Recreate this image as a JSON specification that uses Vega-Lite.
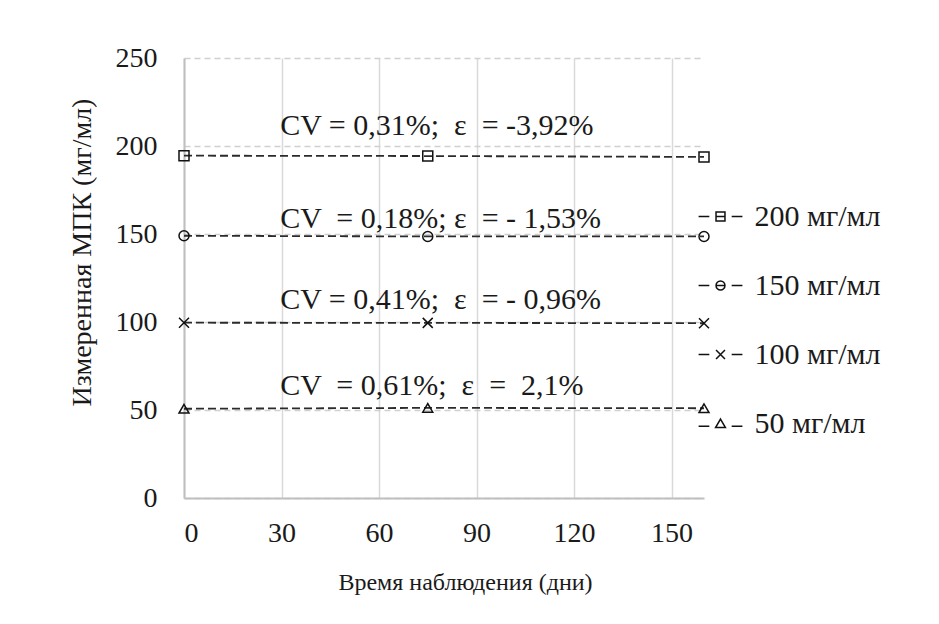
{
  "$schema": "https://vega.github.io/schema/vega-lite/v6.json",
  "width": 520,
  "height": 440,
  "autosize": {"type": "none"},
  "padding": {"left": 184, "top": 58, "right": 235, "bottom": 126},
  "background": "white",
  "config": {
    "view": {"stroke": null},
    "font": "Liberation Serif",
    "text": {"font": "Liberation Serif"},
    "axis": {
      "labelFont": "Liberation Serif",
      "titleFont": "Liberation Serif",
      "labelFontSize": 28,
      "titleFontSize": 26,
      "titleFontWeight": "normal",
      "labelColor": "#1a1a1a",
      "titleColor": "#1a1a1a",
      "ticks": false,
      "tickSize": 0,
      "domainColor": "#bfbfbf",
      "domainWidth": 2
    },
    "legend": {
      "labelFont": "Liberation Serif",
      "labelFontSize": 30,
      "labelColor": "#1a1a1a",
      "padding": 0
    }
  },
  "datasets": {
    "series": [
      {"conc": "200 мг/мл", "day": 0, "value": 194.5},
      {"conc": "200 мг/мл", "day": 75, "value": 194.3},
      {"conc": "200 мг/мл", "day": 160, "value": 193.8},
      {"conc": "150 мг/мл", "day": 0, "value": 149.0},
      {"conc": "150 мг/мл", "day": 75, "value": 148.6},
      {"conc": "150 мг/мл", "day": 160, "value": 148.6},
      {"conc": "100 мг/мл", "day": 0, "value": 99.6},
      {"conc": "100 мг/мл", "day": 75, "value": 99.5},
      {"conc": "100 мг/мл", "day": 160, "value": 99.3},
      {"conc": "50 мг/мл", "day": 0, "value": 50.7},
      {"conc": "50 мг/мл", "day": 75, "value": 51.2},
      {"conc": "50 мг/мл", "day": 160, "value": 51.0}
    ],
    "notes": [
      {"label": "CV = 0,31%;\u00a0 ε \u00a0= -3,92%", "day": 29.6, "value": 211.5},
      {"label": "CV \u00a0= 0,18%; ε \u00a0= - 1,53%", "day": 29.6, "value": 158.8},
      {"label": "CV = 0,41%;\u00a0 ε \u00a0= - 0,96%", "day": 29.6, "value": 112.3},
      {"label": "CV \u00a0= 0,61%;\u00a0 ε \u00a0= \u00a02,1%", "day": 29.6, "value": 63.5}
    ]
  },
  "layer": [
    {
      "data": {"name": "series"},
      "mark": {"type": "line", "color": "#2b2b2b", "strokeWidth": 1.8, "strokeDash": [8, 4]},
      "encoding": {
        "x": {
          "field": "day", "type": "quantitative",
          "scale": {"domain": [0, 160], "nice": false, "zero": false},
          "axis": {
            "values": [0, 30, 60, 90, 120, 150],
            "title": "Время наблюдения (дни)",
            "titleFontSize": 24,
            "grid": true, "gridColor": "#d9d9d9", "gridWidth": 1.5,
            "labelPadding": 21,
            "titleX": 281, "titleY": 84, "titleBaseline": "middle"
          }
        },
        "y": {
          "field": "value", "type": "quantitative",
          "scale": {"domain": [0, 250], "nice": false},
          "axis": {
            "values": [0, 50, 100, 150, 200, 250],
            "title": "Измеренная МПК (мг/мл)",
            "titleFontSize": 28,
            "grid": true, "gridColor": "#d0d0d0", "gridWidth": 1.5, "gridDash": [6, 4],
            "labelPadding": 27,
            "titleX": -102, "titleY": 194, "titleBaseline": "middle"
          }
        },
        "detail": {"field": "conc", "type": "nominal"}
      }
    },
    {
      "data": {"name": "series"},
      "mark": {"type": "point", "filled": false, "color": "#111111", "strokeWidth": 1.5, "size": 100, "opacity": 1},
      "encoding": {
        "x": {"field": "day", "type": "quantitative"},
        "y": {"field": "value", "type": "quantitative"},
        "shape": {
          "field": "conc", "type": "nominal",
          "scale": {
            "domain": ["200 мг/мл", "150 мг/мл", "100 мг/мл", "50 мг/мл"],
            "range": ["square", "circle", "M-1,-1L1,1M-1,1L1,-1", "triangle-up"]
          },
          "legend": null
        }
      }
    },
    {
      "data": {"name": "series"},
      "transform": [{"filter": "false"}],
      "mark": {"type": "point", "filled": false, "color": "#111111", "strokeWidth": 1.5, "size": 80, "opacity": 1},
      "encoding": {
        "x": {"field": "day", "type": "quantitative"},
        "y": {"field": "value", "type": "quantitative"},
        "shape": {
          "field": "conc", "type": "nominal",
          "scale": {
            "domain": ["200 мг/мл", "150 мг/мл", "100 мг/мл", "50 мг/мл"],
            "range": [
              "M-4.9,0H-2.5M2.5,0H4.9M-1,-1H1V1H-1ZM-1,0H1",
              "M-4.9,0H-2.5M2.5,0H4.9M-1,0A1,1 0 1,1 1,0A1,1 0 1,1 -1,0ZM-1,0H1",
              "M-4.9,0H-2.5M2.5,0H4.9M-1,-1L1,1M-1,1L1,-1",
              "M-4.9,0.6H-2.5M2.5,0.6H4.9M0,-1L1.1,0.9H-1.1Z"
            ]
          },
          "legend": {
            "title": null,
            "orient": "none",
            "legendX": 521.5,
            "legendY": 143.5,
            "symbolSize": 80,
            "symbolStrokeWidth": 1.5,
            "symbolStrokeColor": "#111111",
            "symbolFillColor": "transparent",
            "labelOffset": 19,
            "rowPadding": 39,
            "labelFontSize": 30
          }
        }
      }
    },
    {
      "data": {"name": "notes"},
      "mark": {"type": "text", "align": "left", "baseline": "middle", "font": "Liberation Serif", "fontSize": 30, "color": "#1a1a1a"},
      "encoding": {
        "x": {"field": "day", "type": "quantitative"},
        "y": {"field": "value", "type": "quantitative"},
        "text": {"field": "label"}
      }
    }
  ],
  "resolve": {"scale": {"shape": "independent"}}
}
